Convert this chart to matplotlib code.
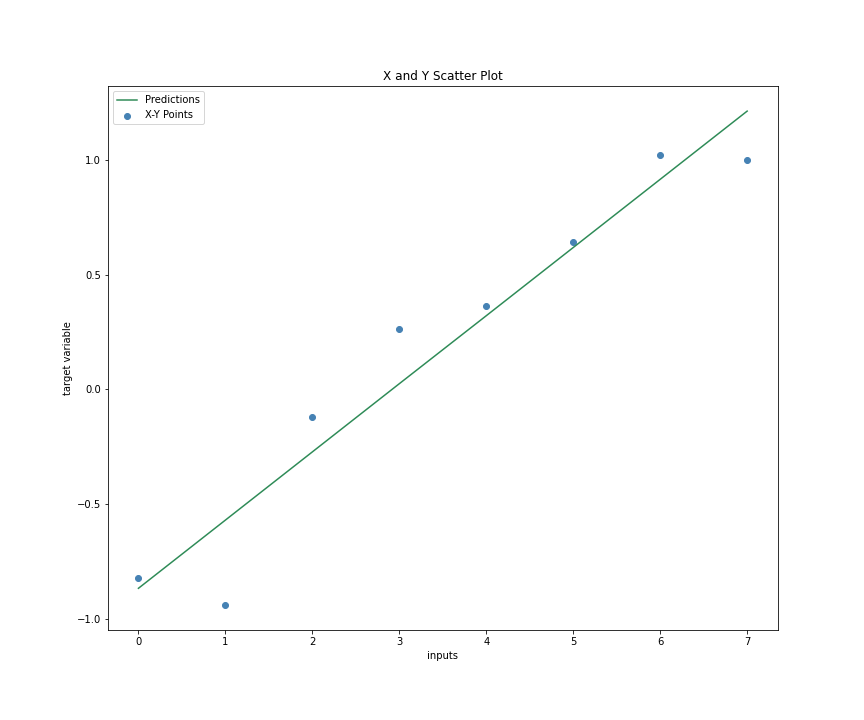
import matplotlib
matplotlib.use('Agg')
import matplotlib.pyplot as plt

# data
inputs = [0, 1, 2, 3, 4, 5, 6, 7]
targets = [-0.822, -0.94, -0.12, 0.262, 0.362, 0.64, 1.022, 0.998]
predictions = [-0.866, -0.569, -0.272, 0.025, 0.321, 0.618, 0.915, 1.212]

fig = plt.figure(figsize=(12, 10), dpi=72)
ax = fig.add_subplot(111)
fig.subplots_adjust(left=0.125, right=0.9, top=0.88, bottom=0.125)

ax.plot(inputs, predictions, color='seagreen', label='Predictions')
ax.scatter(inputs, targets, color='steelblue', label='X-Y Points')

ax.set_title('X and Y Scatter Plot')
ax.set_xlabel('inputs')
ax.set_ylabel('target variable')
ax.set_yticks([-1.0, -0.5, 0.0, 0.5, 1.0])
ax.legend(loc='upper left')

fig.savefig('out.png', dpi=72)
